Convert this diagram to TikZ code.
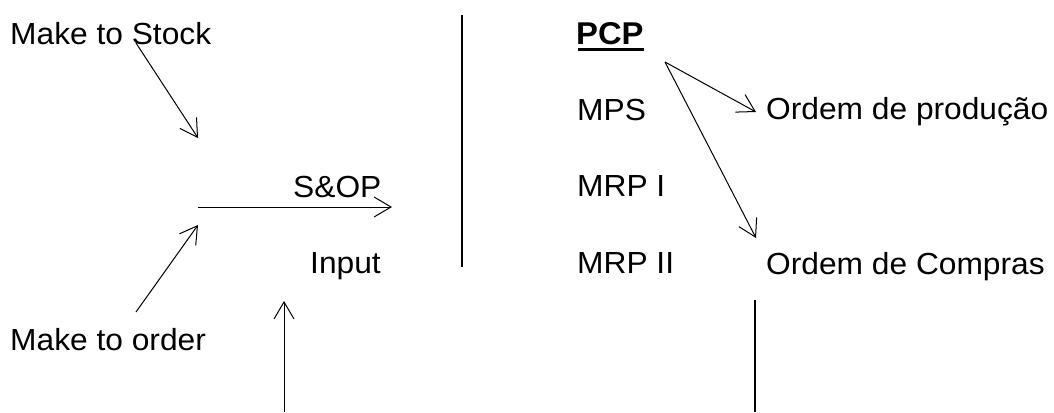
\documentclass[tikz,border=0pt]{standalone}
\usepackage{fontspec}
\setmainfont{Liberation Sans}[FakeStretch=1.04]
\usetikzlibrary{arrows.meta}
\begin{document}
\begin{tikzpicture}[x=1pt,y=-1pt,
  lbl/.style={anchor=base west,inner sep=0pt,font=\fontsize{30.5}{36}\selectfont},
  conn/.style={line width=1pt,-{Straight Barb[length=17pt,width=20pt,line width=1pt]}},
  rule/.style={line width=1.2pt}]
\useasboundingbox (0,0) rectangle (1054,412);
% texts
\node[lbl] (mts) at (10,45) {Make to Stock};
\node[lbl] (sop) at (293,197) {S\&OP};
\node[lbl] (inp) at (310,273) {Input};
\node[lbl] (mto) at (10,350) {Make to order};
\node[lbl,font=\fontsize{31.5}{36}\selectfont\bfseries] (pcp) at (576,45) {PCP};
\node[lbl] (mps) at (577,120) {MPS};
\node[lbl] (mrp1) at (577,196) {MRP I};
\node[lbl] (mrp2) at (577,273) {MRP II};
\node[lbl] (op) at (766,119) {Ordem de produção};
\node[lbl] (oc) at (766,274) {Ordem de Compras};
% underline of PCP
\draw[line width=3.2pt] (578,49.5) -- (644,49.5);
% coordinates
\coordinate (a1s) at (136,43);
\coordinate (a1e) at (198,138);
\coordinate (a2s) at (136,312);
\coordinate (a2e) at (198,225);
\coordinate (hs) at (198,207);
\coordinate (he) at (392,207);
\coordinate (us) at (284,412);
\coordinate (ue) at (284,301);
\coordinate (ps) at (665,62);
\coordinate (pe1) at (756,112);
\coordinate (pe2) at (756,238);
\coordinate (l1a) at (462,15);
\coordinate (l1b) at (462,267);
\coordinate (l2a) at (755,300);
\coordinate (l2b) at (755,412);
% connectors
\draw[conn] (a1s) -- (a1e);
\draw[conn] (a2s) -- (a2e);
\draw[conn] (hs) -- (he);
\draw[conn] (us) -- (ue);
\draw[conn] (ps) -- (pe1);
\draw[conn] (ps) -- (pe2);
\draw[rule] (l1a) -- (l1b);
\draw[rule] (l2a) -- (l2b);
\end{tikzpicture}
\end{document}
